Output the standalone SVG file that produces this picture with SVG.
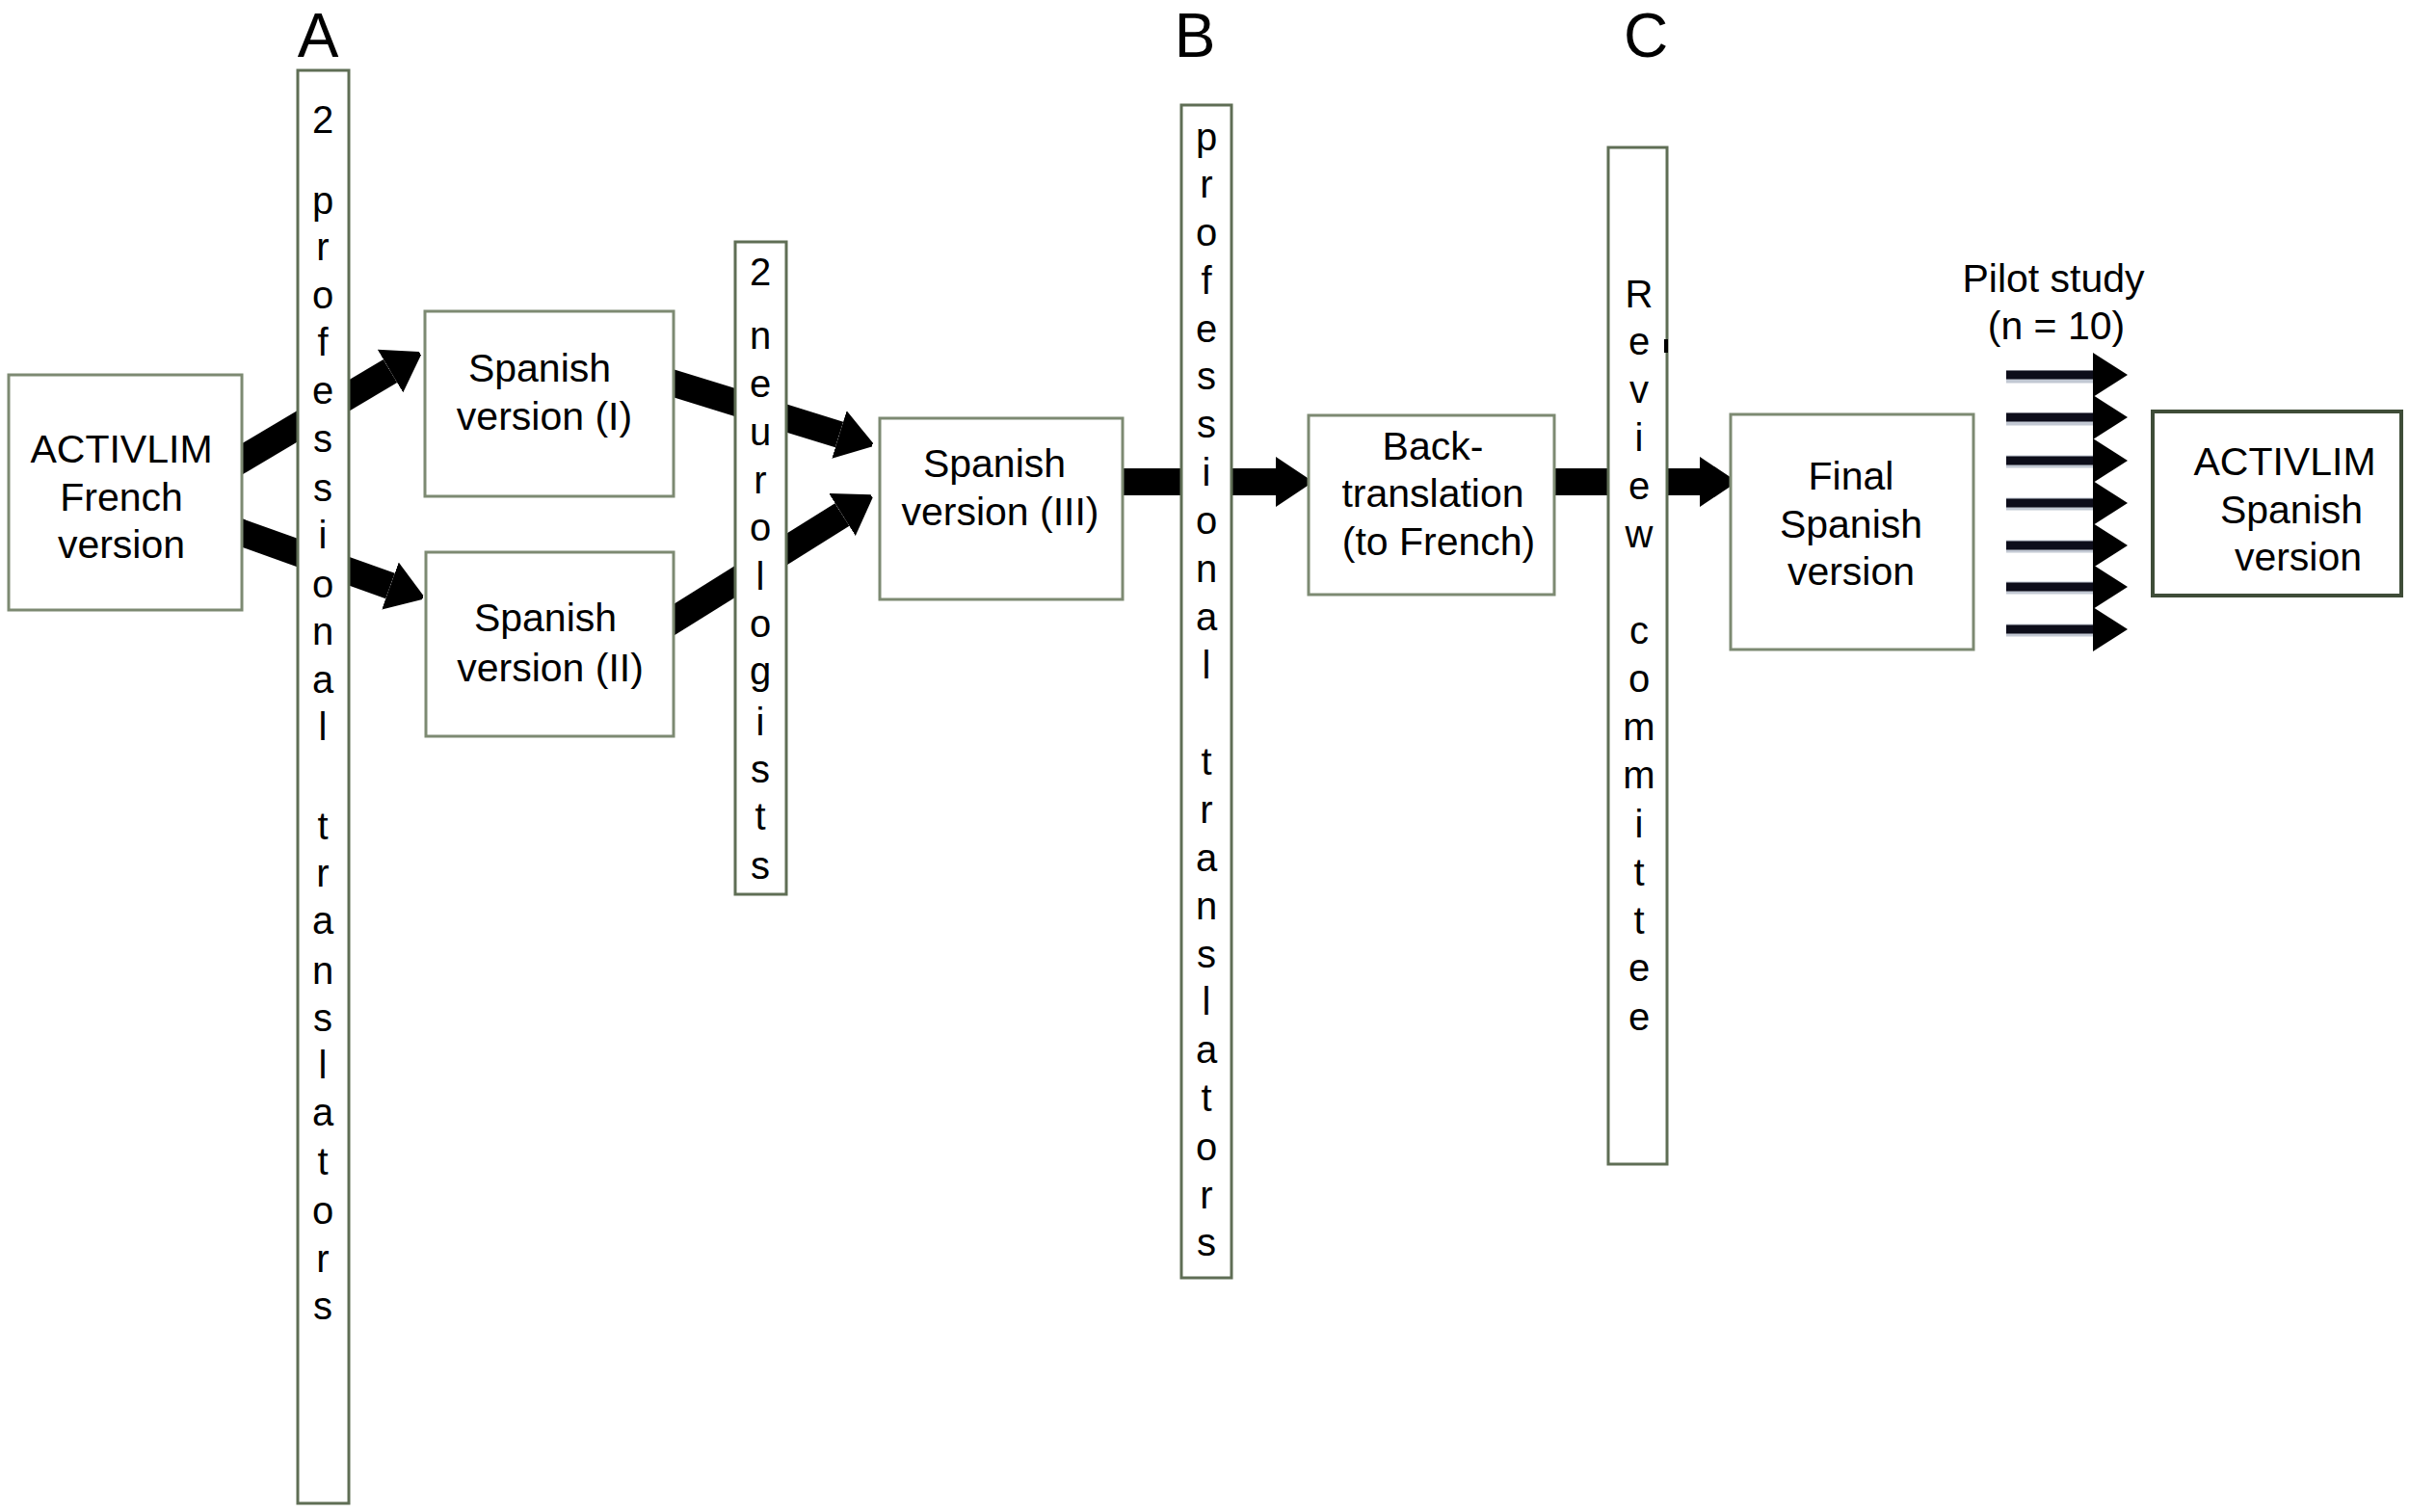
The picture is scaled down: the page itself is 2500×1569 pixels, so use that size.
<svg xmlns="http://www.w3.org/2000/svg" width="2500" height="1569" viewBox="0 0 2500 1569">
<defs>
<style>
text{font-family:"Liberation Sans",Arial,sans-serif;fill:#000}
.box{fill:#fff;stroke:#7d8a72;stroke-width:3}
.bar{fill:#fff;stroke:#5f6e55;stroke-width:3}
.t{font-size:41px;text-anchor:middle}
.v{font-size:40px;text-anchor:middle}
.lab{font-size:64px;text-anchor:middle}
.sh{stroke:#000;stroke-width:28;fill:none}
.ps{stroke:#0d0d1a;stroke-width:9;fill:none}
.psb{stroke:#9aa3b5;stroke-width:13;fill:none;opacity:0.6}
</style>
<marker id="big" markerUnits="userSpaceOnUse" viewBox="0 0 36 52" refX="0" refY="26" markerWidth="36" markerHeight="52" orient="auto">
<path d="M0,0 L36,24 Q37,26 36,28 L0,52 Z" fill="#000"/>
</marker>
<marker id="small" markerUnits="userSpaceOnUse" viewBox="0 0 36 46" refX="0" refY="23" markerWidth="36" markerHeight="46" orient="auto">
<path d="M0,0 L36,23 L0,46 Z" fill="#000"/>
</marker>
</defs>
<rect width="2500" height="1569" fill="#fff"/>

<g id="connectors">
<path class="sh" d="M240,483 L405,385" marker-end="url(#big)"/>
<path class="sh" d="M240,549 L405,608" marker-end="url(#big)"/>
<path class="sh" d="M690,395 L871,451" marker-end="url(#big)"/>
<path class="sh" d="M690,649 L874,534" marker-end="url(#big)"/>
<path class="sh" d="M1160,500 L1324,500" marker-end="url(#big)"/>
<path class="sh" d="M1608,500 L1764,500" marker-end="url(#big)"/>
<g id="pilot-arrows">
<path class="psb" d="M2082,391 H2172 M2082,435 H2172 M2082,479 H2172 M2082,523 H2172 M2082,567 H2172 M2082,610 H2172 M2082,654 H2172"/>
<path class="ps" d="M2082,389 H2172" marker-end="url(#small)"/>
<path class="ps" d="M2082,433 H2172" marker-end="url(#small)"/>
<path class="ps" d="M2082,478 H2172" marker-end="url(#small)"/>
<path class="ps" d="M2082,522 H2172" marker-end="url(#small)"/>
<path class="ps" d="M2082,566 H2172" marker-end="url(#small)"/>
<path class="ps" d="M2082,609 H2172" marker-end="url(#small)"/>
<path class="ps" d="M2082,653 H2172" marker-end="url(#small)"/>
</g>
</g>

<g id="label-A"><text class="lab" x="330" y="59">A</text></g>
<g id="label-B"><text class="lab" x="1240" y="59">B</text></g>
<g id="label-C"><text class="lab" x="1708" y="59">C</text></g>

<g id="french-version">
<rect class="box" x="9" y="389" width="242" height="244"/>
<text class="t" x="126" y="480">ACTIVLIM</text>
<text class="t" x="126" y="530">French</text>
<text class="t" x="126" y="579">version</text>
</g>

<g id="translators-A">
<rect class="bar" x="309" y="73" width="53" height="1487"/>
<text class="v" x="335" y="138">2</text>
<text class="v" x="335" y="222">p</text>
<text class="v" x="335" y="270">r</text>
<text class="v" x="335" y="320">o</text>
<text class="v" x="335" y="369">f</text>
<text class="v" x="335" y="419">e</text>
<text class="v" x="335" y="469">s</text>
<text class="v" x="335" y="520">s</text>
<text class="v" x="335" y="569">i</text>
<text class="v" x="335" y="620">o</text>
<text class="v" x="335" y="669">n</text>
<text class="v" x="335" y="719">a</text>
<text class="v" x="335" y="768">l</text>
<text class="v" x="335" y="871">t</text>
<text class="v" x="335" y="920">r</text>
<text class="v" x="335" y="969">a</text>
<text class="v" x="335" y="1021">n</text>
<text class="v" x="335" y="1070">s</text>
<text class="v" x="335" y="1119">l</text>
<text class="v" x="335" y="1168">a</text>
<text class="v" x="335" y="1219">t</text>
<text class="v" x="335" y="1270">o</text>
<text class="v" x="335" y="1320">r</text>
<text class="v" x="335" y="1369">s</text>
</g>

<g id="spanish-I">
<rect class="box" x="441" y="323" width="258" height="192"/>
<text class="t" x="560" y="396">Spanish</text>
<text class="t" x="565" y="446">version (I)</text>
</g>

<g id="spanish-II">
<rect class="box" x="442" y="573" width="257" height="191"/>
<text class="t" x="566" y="655">Spanish</text>
<text class="t" x="571" y="707">version (II)</text>
</g>

<g id="neurologists">
<rect class="bar" x="763" y="251" width="53" height="677"/>
<text class="v" x="789" y="296">2</text>
<text class="v" x="789" y="362">n</text>
<text class="v" x="789" y="412">e</text>
<text class="v" x="789" y="462">u</text>
<text class="v" x="789" y="512">r</text>
<text class="v" x="789" y="561">o</text>
<text class="v" x="789" y="612">l</text>
<text class="v" x="789" y="661">o</text>
<text class="v" x="789" y="710">g</text>
<text class="v" x="789" y="763">i</text>
<text class="v" x="789" y="812">s</text>
<text class="v" x="789" y="861">t</text>
<text class="v" x="789" y="912">s</text>
</g>

<g id="spanish-III">
<rect class="box" x="913" y="434" width="252" height="188"/>
<text class="t" x="1032" y="495">Spanish</text>
<text class="t" x="1038" y="545">version (III)</text>
</g>

<g id="translators-B">
<rect class="bar" x="1226" y="109" width="52" height="1217"/>
<text class="v" x="1252" y="156">p</text>
<text class="v" x="1252" y="205">r</text>
<text class="v" x="1252" y="255">o</text>
<text class="v" x="1252" y="305">f</text>
<text class="v" x="1252" y="355">e</text>
<text class="v" x="1252" y="404">s</text>
<text class="v" x="1252" y="454">s</text>
<text class="v" x="1252" y="504">i</text>
<text class="v" x="1252" y="554">o</text>
<text class="v" x="1252" y="604">n</text>
<text class="v" x="1252" y="654">a</text>
<text class="v" x="1252" y="704">l</text>
<text class="v" x="1252" y="804">t</text>
<text class="v" x="1252" y="854">r</text>
<text class="v" x="1252" y="904">a</text>
<text class="v" x="1252" y="954">n</text>
<text class="v" x="1252" y="1004">s</text>
<text class="v" x="1252" y="1053">l</text>
<text class="v" x="1252" y="1103">a</text>
<text class="v" x="1252" y="1153">t</text>
<text class="v" x="1252" y="1204">o</text>
<text class="v" x="1252" y="1254">r</text>
<text class="v" x="1252" y="1303">s</text>
</g>

<g id="back-translation">
<rect class="box" x="1358" y="431" width="255" height="186"/>
<text class="t" x="1487" y="477">Back-</text>
<text class="t" x="1487" y="526">translation</text>
<text class="t" x="1493" y="576">(to French)</text>
</g>

<g id="review-committee">
<rect class="bar" x="1669" y="153" width="61" height="1055"/>
<rect x="1727" y="352" width="4" height="14" fill="#000"/>
<text class="v" x="1701" y="319">R</text>
<text class="v" x="1701" y="368">e</text>
<text class="v" x="1701" y="418">v</text>
<text class="v" x="1701" y="468">i</text>
<text class="v" x="1701" y="518">e</text>
<text class="v" x="1701" y="568">w</text>
<text class="v" x="1701" y="668">c</text>
<text class="v" x="1701" y="718">o</text>
<text class="v" x="1701" y="768">m</text>
<text class="v" x="1701" y="818">m</text>
<text class="v" x="1701" y="869">i</text>
<text class="v" x="1701" y="919">t</text>
<text class="v" x="1701" y="969">t</text>
<text class="v" x="1701" y="1018">e</text>
<text class="v" x="1701" y="1069">e</text>
</g>

<g id="final-spanish">
<rect class="box" x="1796" y="430" width="252" height="244"/>
<text class="t" x="1921" y="508">Final</text>
<text class="t" x="1921" y="558">Spanish</text>
<text class="t" x="1921" y="607">version</text>
</g>

<g id="pilot-study">
<text class="t" x="2131" y="303">Pilot study</text>
<text class="t" x="2134" y="352">(n = 10)</text>
</g>

<g id="spanish-version-final">
<rect class="box" x="2234" y="427" width="258" height="191" style="stroke:#3f4d38;stroke-width:4"/>
<text class="t" x="2371" y="493">ACTIVLIM</text>
<text class="t" x="2378" y="543">Spanish</text>
<text class="t" x="2385" y="592">version</text>
</g>
</svg>
